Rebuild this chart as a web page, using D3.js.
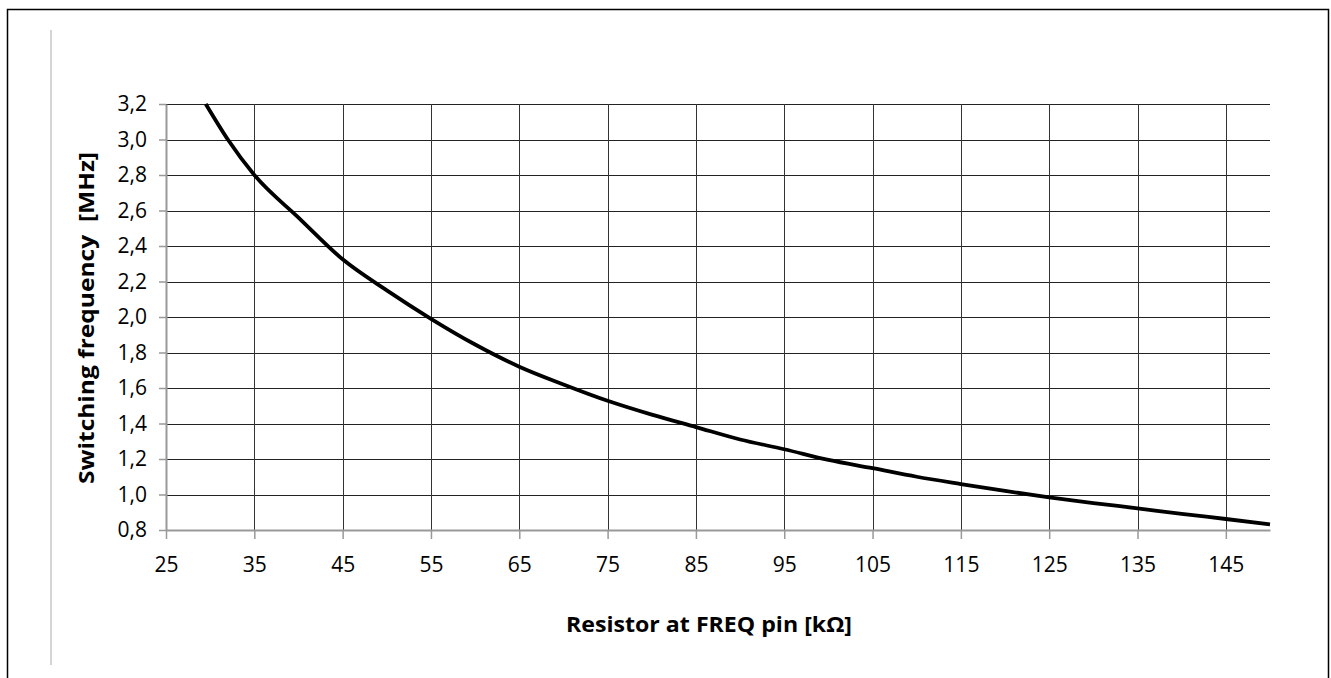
<!DOCTYPE html>
<html>
<head>
<meta charset="utf-8">
<script src="https://cdn.jsdelivr.net/npm/d3@7"></script>
<style>
    body { margin: 0; background: #fff; }
    svg { display: block; }
    .tick-label { font-family: "Open Sans", sans-serif; font-size: 21px; fill: #000; }
    .title { font-family: "Open Sans", sans-serif; font-size: 21px; font-weight: bold; fill: #000; white-space: pre; }
</style>
</head>
<body>
<div id="chart"></div>
<script>
// resistor values [kOhm]
var resistor = [29.5, 32, 35, 40, 45, 50, 55, 60, 65, 70, 75, 80, 85, 90, 95, 100, 105, 110, 115, 120, 125, 130, 135, 140, 145, 150];
// switching frequency [MHz]
var frequency = [3.2, 3.0, 2.8, 2.56, 2.325, 2.15, 1.99, 1.845, 1.72, 1.62, 1.528, 1.45, 1.38, 1.31, 1.255, 1.195, 1.148, 1.10, 1.059, 1.02, 0.984, 0.952, 0.922, 0.891, 0.862, 0.832];
// tick labels
var xTicks = [25, 35, 45, 55, 65, 75, 85, 95, 105, 115, 125, 135, 145];
var yTicks = [0.8, 1.0, 1.2, 1.4, 1.6, 1.8, 2.0, 2.2, 2.4, 2.6, 2.8, 3.0, 3.2];

var width = 1331, height = 678;
var margin = {left: 166, right: 61, top: 104, bottom: 148};
var w = width - margin.left - margin.right;
var h = height - margin.top - margin.bottom;

var svg = d3.select('#chart').append('svg')
    .attr('width', width)
    .attr('height', height);

// outer frame (bottom edge is outside the picture)
svg.append('path')
    .attr('d', 'M7.5,' + height + 'V9.5H1328.5V' + height)
    .attr('fill', 'none')
    .attr('stroke', '#000')
    .attr('stroke-width', 1.5);

// light grey line at the left
svg.append('line')
    .attr('x1', 51).attr('x2', 51)
    .attr('y1', 30).attr('y2', 665)
    .attr('stroke', '#d4d4d4')
    .attr('stroke-width', 2);

var g = svg.append('g')
    .attr('transform', 'translate(' + margin.left + ',' + margin.top + ')');

var x = d3.scaleLinear().domain([25, 150]).range([0, w]);
var y = d3.scaleLinear().domain([0.8, 3.2]).range([h, 0]);

// grid lines
var gridY = g.append('g')
    .call(d3.axisLeft(y).tickValues(yTicks.slice(1)).tickSize(-w).tickFormat(''));
gridY.select('.domain').remove();
gridY.selectAll('line').attr('stroke', '#222').attr('shape-rendering', 'crispEdges');

var gridX = g.append('g')
    .attr('transform', 'translate(0,' + h + ')')
    .call(d3.axisBottom(x).tickValues(xTicks.slice(1)).tickSize(h).tickSizeOuter(0).tickFormat(''));
gridX.select('.domain').remove();
gridX.selectAll('line').attr('y2', -h).attr('stroke', '#333').attr('shape-rendering', 'crispEdges');

// y axis
var yAxis = g.append('g')
    .call(d3.axisLeft(y).tickValues(yTicks).tickSizeInner(7).tickSizeOuter(0).tickPadding(12)
        .tickFormat(function (d) { return d.toFixed(1).replace('.', ','); }));
yAxis.select('.domain').attr('stroke', '#999').attr('stroke-width', 2);
yAxis.selectAll('line').attr('stroke', '#999').attr('stroke-width', 1.5);
yAxis.selectAll('text').attr('class', 'tick-label').attr('font-family', null).attr('font-size', null);

// x axis
var xAxis = g.append('g')
    .attr('transform', 'translate(0,' + h + ')')
    .call(d3.axisBottom(x).tickValues(xTicks).tickSizeInner(9).tickSizeOuter(0).tickPadding(18));
xAxis.select('.domain').attr('stroke', '#999').attr('stroke-width', 2);
xAxis.selectAll('line').attr('stroke', '#999').attr('stroke-width', 1.5);
xAxis.selectAll('text').attr('class', 'tick-label').attr('font-family', null).attr('font-size', null);

// curve
var line = d3.line()
    .x(function (d, i) { return x(resistor[i]); })
    .y(function (d) { return y(d); })
    .curve(d3.curveMonotoneX);
g.append('path')
    .datum(frequency)
    .attr('d', line)
    .attr('fill', 'none')
    .attr('stroke', '#000')
    .attr('stroke-width', 3.8)
    .attr('stroke-linejoin', 'round');

// axis titles
svg.append('text')
    .attr('class', 'title')
    .attr('x', 709)
    .attr('y', 632)
    .attr('text-anchor', 'middle')
    .attr('textLength', 286)
    .attr('lengthAdjust', 'spacingAndGlyphs')
    .text('Resistor at FREQ pin [kΩ]');

svg.append('text')
    .attr('class', 'title')
    .attr('transform', 'translate(94,318) rotate(-90)')
    .attr('text-anchor', 'middle')
    .attr('textLength', 332)
    .attr('lengthAdjust', 'spacingAndGlyphs')
    .text('Switching frequency  [MHz]');
</script>
</body>
</html>
